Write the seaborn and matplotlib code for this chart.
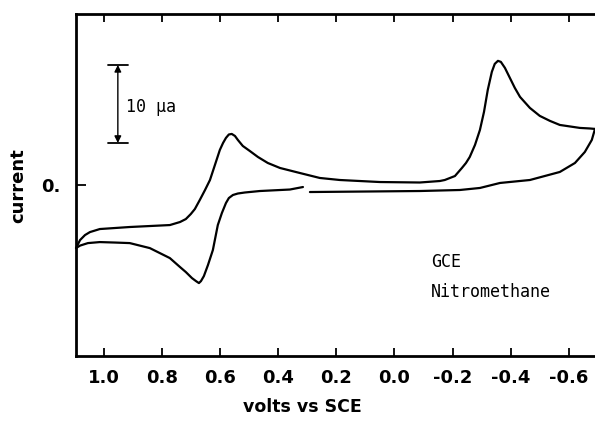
import numpy as np
import pandas as pd
import matplotlib
matplotlib.use("Agg")
import matplotlib.pyplot as plt
import seaborn as sns

# Forward sweep (upper branch), volts vs SCE and current in microamps
fwd_v = [1.096, 1.082, 1.065, 1.048, 1.014, 0.911, 0.773, 0.738, 0.718, 0.701,
         0.687, 0.670, 0.652, 0.635, 0.618, 0.601, 0.590, 0.580, 0.570, 0.560,
         0.549, 0.539, 0.522, 0.498, 0.470, 0.436, 0.394, 0.326, 0.257, 0.188,
         0.050, -0.087, -0.156, -0.173, -0.208, -0.232, -0.246, -0.259, -0.277,
         -0.294, -0.308, -0.321, -0.335, -0.345, -0.356, -0.366, -0.380, -0.397,
         -0.414, -0.432, -0.466, -0.500, -0.535, -0.569, -0.638, -0.672, -0.690]
fwd_i = [-8.08, -7.05, -6.41, -6.03, -5.64, -5.38, -5.13, -4.74, -4.36, -3.72,
         -3.08, -1.92, -0.64, 0.64, 2.56, 4.49, 5.38, 6.03, 6.47, 6.54,
         6.28, 5.77, 5.00, 4.36, 3.59, 2.82, 2.18, 1.54, 0.90, 0.64,
         0.38, 0.32, 0.51, 0.64, 1.15, 2.18, 2.82, 3.59, 5.13,
         7.05, 9.36, 12.18, 14.49, 15.51, 15.90, 15.77, 15.00, 13.72,
         12.44, 11.28, 9.87, 8.85, 8.21, 7.69, 7.31, 7.24, 7.18]

# Reverse sweep, right-hand piece
rev1_v = [-0.690, -0.679, -0.655, -0.621, -0.569, -0.466, -0.363, -0.294,
          -0.225, -0.087, 0.085, 0.291]
rev1_i = [7.18, 5.77, 4.23, 2.82, 1.67, 0.64, 0.26, -0.38,
          -0.64, -0.77, -0.83, -0.90]

# Reverse sweep, left-hand piece
rev2_v = [0.315, 0.360, 0.463, 0.515, 0.539, 0.556, 0.570, 0.580, 0.594,
          0.608, 0.625, 0.642, 0.656, 0.666, 0.673, 0.683, 0.697, 0.718,
          0.738, 0.773, 0.842, 0.911, 0.962, 1.014, 1.055, 1.082, 1.096]
rev2_i = [-0.26, -0.58, -0.77, -0.96, -1.09, -1.28, -1.67, -2.31, -3.59,
          -5.13, -8.33, -10.26, -11.67, -12.31, -12.56, -12.31, -11.92, -11.15,
          -10.51, -9.36, -8.08, -7.44, -7.37, -7.31, -7.44, -7.76, -8.08]

xticks = [1.0, 0.8, 0.6, 0.4, 0.2, 0.0, -0.2, -0.4, -0.6]
xticklabels = ["1.0", "0.8", "0.6", "0.4", "0.2", "0.0", "-0.2", "-0.4", "-0.6"]
yticks = [0]
yticklabels = ["0."]

sns.set_style("white")
plt.rcParams["font.family"] = ["DejaVu Sans"]
for key in ["text.color", "axes.labelcolor", "xtick.color", "ytick.color"]:
    plt.rcParams[key] = "black"

fig = plt.figure(figsize=(5.95, 4.36), dpi=100)
ax = fig.add_axes([76 / 595, 80 / 436, 519 / 595, 342 / 436])

segments = [("fwd", fwd_v, fwd_i), ("rev1", rev1_v, rev1_i), ("rev2", rev2_v, rev2_i)]
for name, v, i in segments:
    df = pd.DataFrame({"volts": v, "current": i})
    sns.lineplot(data=df, x="volts", y="current", sort=False, estimator=None,
                 color="black", linewidth=1.6, ax=ax, clip_on=False)

ax.set_xlim(1.096, -0.690)
ax.set_ylim(-21.9, 21.9)

ax.set_xticks(xticks)
ax.set_xticklabels(xticklabels, fontsize=13, fontweight="bold")
ax.set_yticks(yticks)
ax.set_yticklabels(yticklabels, fontsize=13, fontweight="bold")
ax.tick_params(axis="x", direction="in", top=True, bottom=True, length=6, width=1.3, pad=9)
ax.tick_params(axis="y", direction="in", left=True, length=7, width=1.3, pad=11)

for s in ["left", "bottom", "top"]:
    ax.spines[s].set_visible(True)
    ax.spines[s].set_linewidth(2)
    ax.spines[s].set_color("black")
ax.spines["right"].set_visible(False)

ax.set_xlabel("volts vs SCE", fontsize=12.5, fontweight="bold")
ax.set_ylabel("current", fontsize=13, fontweight="bold")
ax.xaxis.set_label_coords((302 - 76) / 519, -(407 - 356) / 342)
ax.yaxis.set_label_coords(-(76 - 18) / 519, 0.5 - 1 / 342)
ax.xaxis.label.set_va("center")
ax.yaxis.label.set_va("center")

# scale bar: 10 microamps
bar_x = 0.952
ax.annotate("", xy=(bar_x, 15.38), xytext=(bar_x, 5.38),
            arrowprops=dict(arrowstyle="<|-|>", color="black", lw=1.0,
                            mutation_scale=10, shrinkA=0, shrinkB=0))
ax.plot([0.986, 0.917], [15.38, 15.38], color="black", lw=1.3)
ax.plot([0.986, 0.917], [5.38, 5.38], color="black", lw=1.3)
ax.text(0.925, 10.0, "10 μa", fontsize=12, va="center", ha="left",
        family="DejaVu Sans Mono")

ax.text(-0.125, -9.8, "GCE", fontsize=12, va="center", ha="left",
        family="DejaVu Sans Mono")
ax.text(-0.125, -13.7, "Nitromethane", fontsize=12, va="center", ha="left",
        family="DejaVu Sans Mono")

fig.savefig("out.png", dpi=100)
